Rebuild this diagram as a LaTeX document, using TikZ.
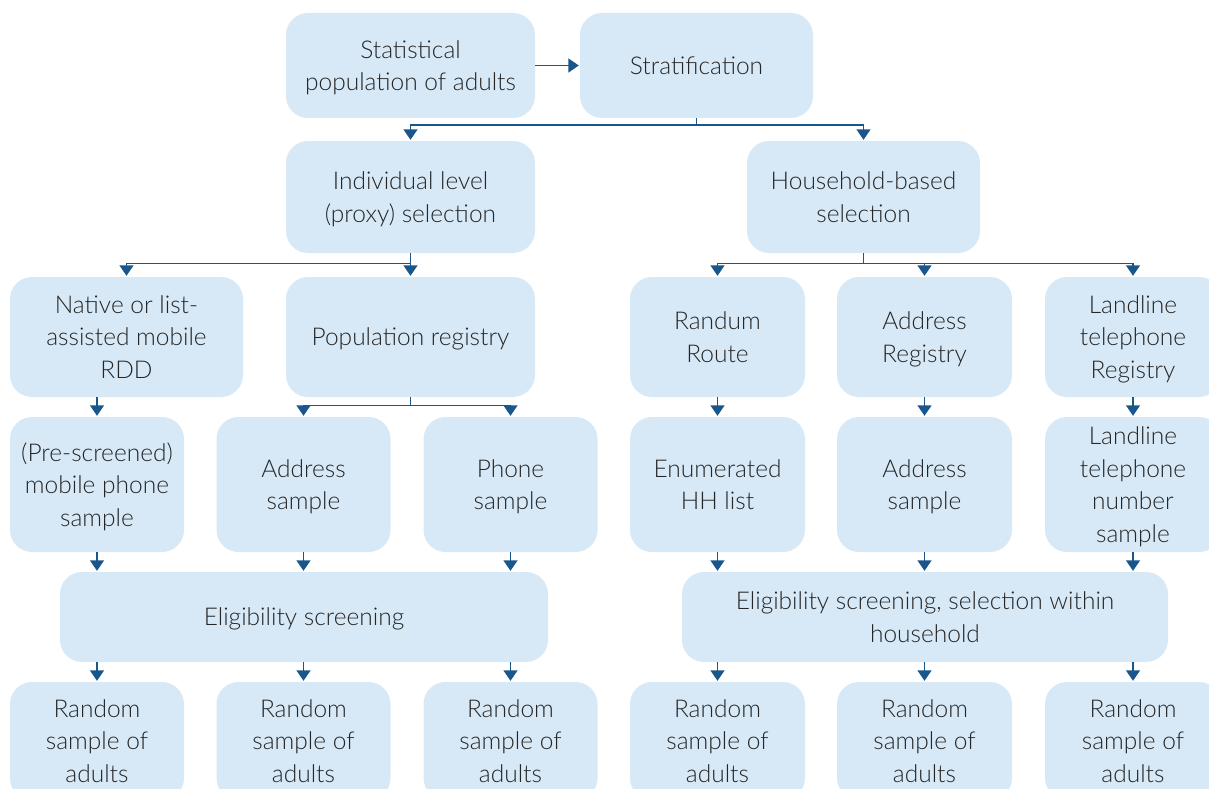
\documentclass[tikz,border=0pt]{standalone}
\usepackage{fontspec}
\setmainfont{Lato Light}
\usetikzlibrary{arrows.meta,calc}
\definecolor{boxfill}{HTML}{D7E9F7}
\definecolor{linkblue}{HTML}{18568C}
\definecolor{inkgray}{HTML}{262626}
\tikzset{
  box/.style={fill=boxfill, rounded corners=22pt, align=center, text=inkgray,
    inner sep=0pt, font=\fontsize{24.5}{32.5}\selectfont,
    % fixed last-line depth keeps the lines centred on the capitals
    text depth=-1.5pt},
  link/.style={draw=linkblue, line width=1.4pt},
  arr/.style={link, -{Triangle[width=14pt,length=10.5pt]}, shorten >=1pt},
}
\begin{document}
\begin{tikzpicture}[x=1pt,y=-1pt]
\useasboundingbox (0,0) rectangle (1209,789);
\clip (0,0) rectangle (1209,789);

% top row
\node[box, minimum width=249pt, minimum height=105pt] (stat) at (410.5,65.5) {Statistical\\population of adults};
\node[box, minimum width=233pt, minimum height=105pt] (strat) at (696.5,65.5) {Stratification};

% selection level
\node[box, minimum width=249pt, minimum height=112pt] (indiv) at (410.5,197) {Individual level\\(proxy) selection};
\node[box, minimum width=233pt, minimum height=112pt] (house) at (863.5,197) {Household-based\\selection};

% frames
\node[box, minimum width=233pt, minimum height=120pt] (native) at (126.5,337) {Native or list-\\assisted mobile\\RDD};
\node[box, minimum width=249pt, minimum height=120pt] (popreg) at (410.5,337) {Population registry};
\node[box, minimum width=175pt, minimum height=120pt] (randum) at (717.5,337) {Randum\\Route};
\node[box, minimum width=175pt, minimum height=120pt] (addrreg) at (924.5,337) {Address\\Registry};
\node[box, minimum width=176pt, minimum height=120pt] (landreg) at (1133,337) {Landline\\telephone\\Registry};

% samples
\node[box, minimum width=174pt, minimum height=135pt] (mobile) at (97,484.5) {(Pre-screened)\\mobile phone\\sample};
\node[box, minimum width=174pt, minimum height=135pt] (addrs) at (303.5,484.5) {Address\\sample};
\node[box, minimum width=174pt, minimum height=135pt] (phone) at (510.5,484.5) {Phone\\sample};
\node[box, minimum width=175pt, minimum height=135pt] (enum) at (717.5,484.5) {Enumerated\\HH list};
\node[box, minimum width=175pt, minimum height=135pt] (addrs2) at (924.5,484.5) {Address\\sample};
\node[box, minimum width=176pt, minimum height=135pt] (lands) at (1133,484.5) {Landline\\telephone\\number\\sample};

% screening
\node[box, minimum width=488pt, minimum height=90pt] (eligL) at (304,617) {Eligibility screening};
\node[box, minimum width=486pt, minimum height=90pt] (eligR) at (925,617) {Eligibility screening, selection within\\household};

% outcomes
\node[box, minimum width=174pt, minimum height=118pt] (out1) at (97,741) {Random\\sample of\\adults};
\node[box, minimum width=174pt, minimum height=118pt] (out2) at (303.5,741) {Random\\sample of\\adults};
\node[box, minimum width=174pt, minimum height=118pt] (out3) at (510.5,741) {Random\\sample of\\adults};
\node[box, minimum width=175pt, minimum height=118pt] (out4) at (717.5,741) {Random\\sample of\\adults};
\node[box, minimum width=175pt, minimum height=118pt] (out5) at (924.5,741) {Random\\sample of\\adults};
\node[box, minimum width=176pt, minimum height=118pt] (out6) at (1133,741) {Random\\sample of\\adults};

% connectors
\draw[arr] (stat.east) -- (strat.west);

\coordinate (j0) at ($(strat.south)+(0,7)$);
\draw[link] (strat.south) -- (j0);
\draw[arr] (j0) -| (indiv.north);
\draw[arr] (j0) -| (house.north);

\coordinate (j1) at ($(indiv.south)+(0,10)$);
\draw[link] (indiv.south) -- (j1);
\draw[arr] (j1) -| (native.north);
\draw[arr] (j1) -- (popreg.north);

\coordinate (j2) at ($(house.south)+(0,10)$);
\draw[link] (house.south) -- (j2);
\draw[arr] (j2) -| (randum.north);
\draw[arr] (j2) -| (addrreg.north);
\draw[arr] (j2) -| (landreg.north);

\draw[arr] (mobile.north |- native.south) -- (mobile.north);
\coordinate (j3) at ($(popreg.south)+(0,8)$);
\draw[link] (popreg.south) -- (j3);
\draw[arr] (j3) -| (addrs.north);
\draw[arr] (j3) -| (phone.north);

\draw[arr] (randum.south) -- (enum.north);
\draw[arr] (addrreg.south) -- (addrs2.north);
\draw[arr] (landreg.south) -- (lands.north);

\foreach \s in {mobile,addrs,phone}
  \draw[arr] (\s.south) -- (\s.south |- eligL.north);
\foreach \s in {enum,addrs2,lands}
  \draw[arr] (\s.south) -- (\s.south |- eligR.north);

\foreach \o in {out1,out2,out3}
  \draw[arr] (\o.north |- eligL.south) -- (\o.north);
\foreach \o in {out4,out5,out6}
  \draw[arr] (\o.north |- eligR.south) -- (\o.north);
\end{tikzpicture}
\end{document}
